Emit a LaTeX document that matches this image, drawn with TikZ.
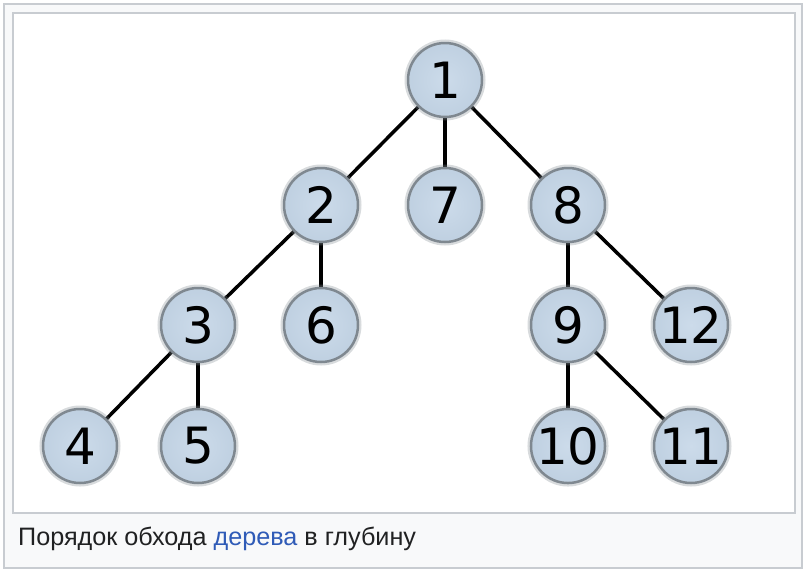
\documentclass[tikz,border=0pt]{standalone}
\usepackage{fontspec}
\setmainfont{Liberation Sans}
\newfontfamily\digitfont{DejaVu Sans}
\usetikzlibrary{backgrounds}
\pgfdeclarelayer{edges}
\pgfsetlayers{background,edges,main}
\definecolor{framegray}{HTML}{C8CCD1}
\definecolor{capbg}{HTML}{F8F9FA}
\definecolor{linkblue}{HTML}{2F5BB7}
\definecolor{nodefill}{HTML}{BFD0E1}
\definecolor{nodeinner}{HTML}{CCDBEA}
\definecolor{nodeedge}{HTML}{7F8890}
\tikzset{
  treenode/.style={circle, minimum size=74pt, inner sep=0pt,
    inner color=nodeinner, outer color=nodefill,
    draw=nodeedge, line width=2.5pt,
    preaction={draw=nodeedge, line width=7pt, opacity=0.3},
    font=\digitfont\fontsize{50}{50}\selectfont},
  treeedge/.style={line width=3.5pt, black}
}
\begin{document}
\begin{tikzpicture}[x=1pt,y=-1pt]
\useasboundingbox (0,0) rectangle (806,574);
\begin{pgfonlayer}{background}
\draw[framegray, fill=capbg, line width=2pt] (4,4) rectangle (802,568);
\draw[framegray, fill=white, line width=2pt] (13,13) rectangle (795,513);
\end{pgfonlayer}
\node[treenode] (n1) at (445,80) {1};
\node[treenode] (n2) at (321,205) {2};
\node[treenode] (n7) at (445,205) {7};
\node[treenode] (n8) at (568,205) {8};
\node[treenode] (n3) at (198,325) {3};
\node[treenode] (n6) at (321,325) {6};
\node[treenode] (n9) at (568,325) {9};
\node[treenode] (n12) at (691,325) {12};
\node[treenode] (n4) at (80,446) {4};
\node[treenode] (n5) at (198,446) {5};
\node[treenode] (n10) at (568,446) {10};
\node[treenode] (n11) at (691,446) {11};
\begin{pgfonlayer}{edges}
\draw[treeedge] (n1.center) -- (n2.center);
\draw[treeedge] (n1.center) -- (n7.center);
\draw[treeedge] (n1.center) -- (n8.center);
\draw[treeedge] (n2.center) -- (n3.center);
\draw[treeedge] (n2.center) -- (n6.center);
\draw[treeedge] (n3.center) -- (n4.center);
\draw[treeedge] (n3.center) -- (n5.center);
\draw[treeedge] (n8.center) -- (n9.center);
\draw[treeedge] (n8.center) -- (n12.center);
\draw[treeedge] (n9.center) -- (n10.center);
\draw[treeedge] (n9.center) -- (n11.center);
\end{pgfonlayer}
\node[anchor=base west, inner sep=0pt, font=\fontsize{25.2}{30}\selectfont, text={rgb,255:red,32;green,33;blue,34}] (cap) at (18,545) {Порядок обхода \textcolor{linkblue}{дерева} в глубину};
\end{tikzpicture}
\end{document}
